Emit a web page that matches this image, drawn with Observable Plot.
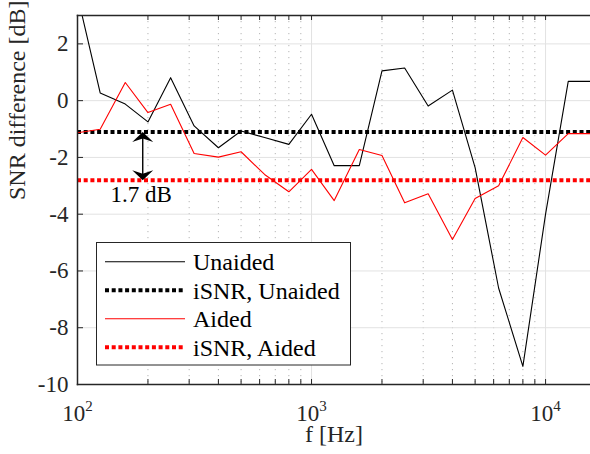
<!DOCTYPE html>
<html><head><meta charset="utf-8">
<script src="https://cdn.jsdelivr.net/npm/d3@7"></script>
<script src="https://cdn.jsdelivr.net/npm/@observablehq/plot@0.6"></script>
<style>
html,body{margin:0;padding:0;background:#fff;}
#chart{position:relative;width:590px;height:454px;}
</style></head><body><div id="chart"></div>
<script>
// ---- data ----
const freqs   = [100,125,160,200,250,315,400,500,630,800,1000,1250,1600,2000,2500,3150,4000,5000,6300,8000,10000,12500,16000];
const unaided = [3.7,0.27,-0.12,-0.75,0.81,-0.89,-1.66,-1.07,-1.3,-1.54,-0.48,-2.29,-2.29,1.05,1.15,-0.19,0.37,-2.36,-6.6,-9.36,-4.0,0.68,0.68];
const aided   = [-1.13,-1.01,0.64,-0.42,-0.13,-1.86,-1.99,-1.8,-2.6,-3.21,-2.42,-3.52,-1.72,-1.93,-3.6,-3.28,-4.89,-3.45,-3.0,-1.3,-1.92,-1.16,-1.16];
const isnrUnaided = -1.1;
const isnrAided = -2.8;
const arrowFreq = [190];
const yTicks = [2,0,-2,-4,-6,-8,-10];
const xMajor = [100,1000,10000];
const xMinor = [200,300,400,500,600,700,800,900,2000,3000,4000,5000,6000,7000,8000,9000];
const seriesNames = ["Unaided","iSNR, Unaided","Aided","iSNR, Aided"];
const xLabel = "f [Hz]";
const yLabel = "SNR difference [dB]";

// ---- layout / style ----
const W = 590, H = 454, mL = 77, mR = 0, mT = 15, mB = 70;
const pw = W - mL - mR, ph = H - mT - mB;
const AX = "#262626";
const RED = "#ff0000";
const FONT = "'Liberation Serif','Times New Roman',serif";
const DOTS = "4,2.7";

const unaidedData = freqs.map((f, i) => ({f, v: unaided[i]}));
const aidedData = freqs.map((f, i) => ({f, v: aided[i]}));

const headUp = {draw(c) { c.moveTo(0, 0); c.lineTo(10.5, 10); c.lineTo(0, 6.5); c.lineTo(-10.5, 10); c.closePath(); }};
const headDown = {draw(c) { c.moveTo(0, 0); c.lineTo(10.5, -10); c.lineTo(0, -6.5); c.lineTo(-10.5, -10); c.closePath(); }};

const chart = Plot.plot({
  width: W, height: H,
  marginLeft: mL, marginRight: mR, marginTop: mT, marginBottom: mB,
  style: {fontFamily: FONT, fontSize: "23px", color: AX, background: "#fff"},
  x: {type: "log", domain: [100, 15560]},
  y: {domain: [-10, 3]},
  marks: [
    // grid
    Plot.ruleX(xMinor, {stroke: "#b5b5b5", strokeWidth: 1, strokeDasharray: "1.2,4.8"}),
    Plot.ruleX(xMajor, {stroke: "#e2e2e2", strokeWidth: 1}),
    Plot.ruleY(yTicks, {stroke: "#e2e2e2", strokeWidth: 1}),
    // data
    Plot.line(unaidedData, {x: "f", y: "v", stroke: "black", strokeWidth: 1.1, clip: true}),
    Plot.ruleY([isnrUnaided], {stroke: "black", strokeWidth: 4, strokeDasharray: DOTS}),
    Plot.line(aidedData, {x: "f", y: "v", stroke: RED, strokeWidth: 1.1, clip: true}),
    Plot.ruleY([isnrAided], {stroke: RED, strokeWidth: 4, strokeDasharray: DOTS}),
    // annotation arrow
    Plot.ruleX(arrowFreq, {x: d => d, y1: isnrUnaided, y2: isnrAided, stroke: "black", strokeWidth: 1.4, insetTop: 4, insetBottom: 4}),
    Plot.dot(arrowFreq, {x: d => d, y: isnrUnaided, symbol: headUp, fill: "black"}),
    Plot.dot(arrowFreq, {x: d => d, y: isnrAided, symbol: headDown, fill: "black"}),
    Plot.text(arrowFreq, {x: d => d, y: isnrAided, text: () => (isnrUnaided - isnrAided).toFixed(1) + " dB",
      lineAnchor: "top", dy: 6, dx: -1.5, fontSize: 23, fill: "black"}),
    // ticks (inward)
    Plot.ruleY(yTicks, {stroke: AX, strokeWidth: 1, insetRight: pw - 6}),
    Plot.ruleX([...xMajor, ...xMinor], {stroke: AX, strokeWidth: 1, insetTop: ph - 5}),
    Plot.ruleX([...xMajor, ...xMinor], {stroke: AX, strokeWidth: 1, insetBottom: ph - 5}),
    // frame
    Plot.frame({anchor: "left", stroke: AX, strokeWidth: 1.5}),
    Plot.frame({anchor: "bottom", stroke: AX, strokeWidth: 1.5}),
    Plot.frame({anchor: "top", stroke: AX, strokeWidth: 1.5}),
    // axes
    Plot.axisY(yTicks, {tickSize: 0, tickPadding: 9, label: null, fontSize: 23,
      tickFormat: d => d < 0 ? "-" + Math.abs(d) : String(d)}),
    Plot.axisX(xMajor, {tickSize: 0, tickPadding: 20, label: null, fontSize: 23,
      tickFormat: d => "10^" + Math.round(Math.log10(d))}),
    Plot.text([yLabel], {text: d => d, frameAnchor: "left", rotate: -90, dx: -60, fontSize: 24, fill: AX}),
    Plot.text([xLabel], {text: d => d, frameAnchor: "bottom", dy: 57, fontSize: 24, fill: AX})
  ]
});

// superscript exponents on x tick labels
d3.select(chart).selectAll('g[aria-label="x-axis tick label"] text').each(function () {
  const parts = this.textContent.split("^");
  const s = d3.select(this);
  s.text(null);
  s.append("tspan").text(parts[0]);
  s.append("tspan").attr("dy", "-10").attr("font-size", "15").text(parts[1]);
});

// legend
const lg = d3.select(chart).append("g").attr("font-family", FONT).attr("font-size", 24)
  .attr("text-anchor", "start");
lg.append("rect").attr("x", 96.5).attr("y", 242.5).attr("width", 254).attr("height", 122.5)
  .attr("fill", "white").attr("stroke", AX).attr("stroke-width", 1);
seriesNames.forEach((name, i) => {
  const yy = 261.7 + i * 28.5;
  const color = i < 2 ? "black" : RED;
  const dotted = i % 2 === 1;
  lg.append("line").attr("x1", 105).attr("x2", 185).attr("y1", yy).attr("y2", yy)
    .attr("stroke", color).attr("stroke-width", dotted ? 4 : 1.1)
    .attr("stroke-dasharray", dotted ? DOTS : null);
  lg.append("text").attr("x", 193).attr("y", yy + 8.3).attr("fill", "black")
    .attr("text-anchor", "start").text(name);
});

document.getElementById("chart").appendChild(chart);
</script></body></html>
